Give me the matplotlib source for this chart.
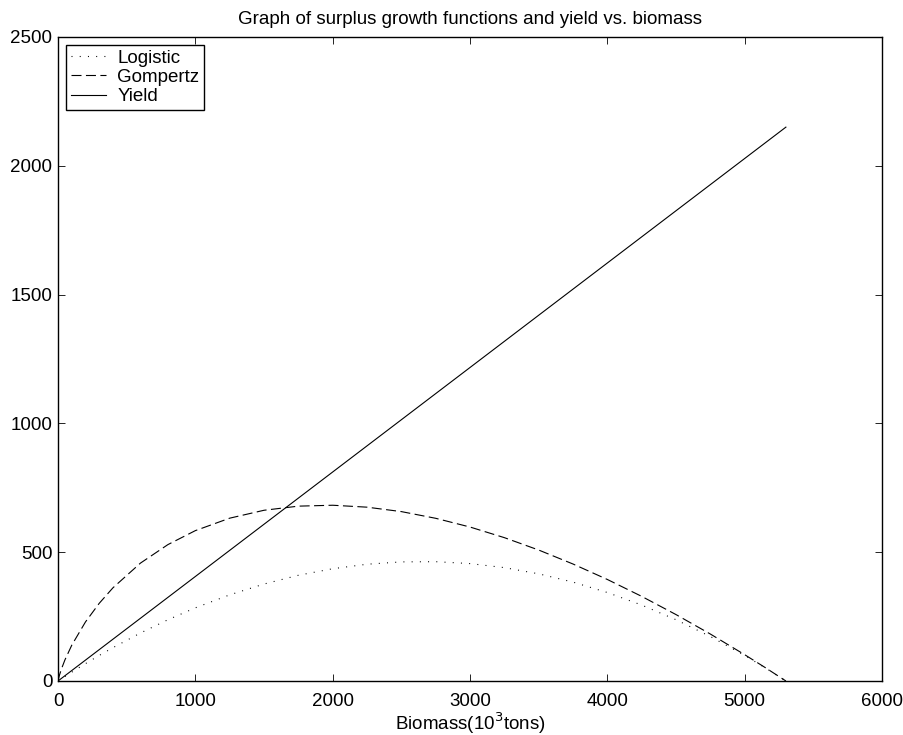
import numpy as np
import matplotlib.pyplot as plt

plt.rcParams['font.family'] = ['Liberation Sans', 'DejaVu Sans']

# Biomass (10^3 tons)
biomass = [0, 10, 25, 50, 100, 200, 300, 400, 600, 800, 1000, 1250, 1500, 1750,
           2000, 2250, 2500, 2750, 3000, 3250, 3500, 3750, 4000, 4250, 4500,
           4750, 5000, 5150, 5300]

logistic = [0, 3.5, 8.7, 17.3, 34.3, 67.4, 99.1, 129.4, 186.2, 237.7, 284.0,
            334.3, 376.4, 410.3, 435.8, 453.2, 462.3, 463.1, 455.7, 440.0,
            416.0, 383.8, 343.4, 294.7, 237.7, 172.5, 99.1, 51.0, 0]

gompertz = [0, 22.0, 46.9, 81.6, 139.0, 229.4, 301.5, 361.8, 457.5, 529.4,
            583.7, 632.0, 662.7, 678.7, 682.2, 674.7, 657.5, 631.5, 597.6,
            556.4, 508.3, 454.0, 394.0, 328.4, 257.7, 182.2, 102.0, 51.8, 0]

yield_x = [0, 5300]
yield_y = [0, 2150]

fig = plt.figure(figsize=(9.04, 7.35), dpi=100)
ax = fig.add_axes([0.0642, 0.0735, 0.9115, 0.8762])

ax.plot(biomass, logistic, color='black', linewidth=0.8, linestyle=(0, (0.9, 6.5)),
        label='Logistic')
ax.plot(biomass, gompertz, color='black', linewidth=0.8, linestyle=(0, (9, 4)),
        label='Gompertz')
ax.plot(yield_x, yield_y, color='black', linewidth=0.8, label='Yield')

ax.set_xlim(0, 6000)
ax.set_ylim(0, 2500)
ax.set_xticks(np.arange(0, 6001, 1000))
ax.set_yticks(np.arange(0, 2501, 500))
ax.tick_params(direction='in', length=5, width=0.6, top=True, right=True,
               labelsize=13.5)
ax.tick_params(axis='x', pad=9)
ax.tick_params(axis='y', pad=4)
for s in ax.spines.values():
    s.set_linewidth(1.0)

ax.set_title('Graph of surplus growth functions and yield vs. biomass', fontsize=13.5, pad=9)
ax.set_xlabel(r'Biomass(10$^3$tons)', fontsize=13.5, labelpad=0)

leg = ax.legend(loc='upper left', fontsize=13.5, fancybox=False, framealpha=1,
                edgecolor='black', handlelength=1.9, borderaxespad=0.42,
                labelspacing=0.12, handletextpad=0.6, borderpad=0.25)
leg.get_frame().set_linewidth(1.0)

fig.savefig('out.png', dpi=100)
